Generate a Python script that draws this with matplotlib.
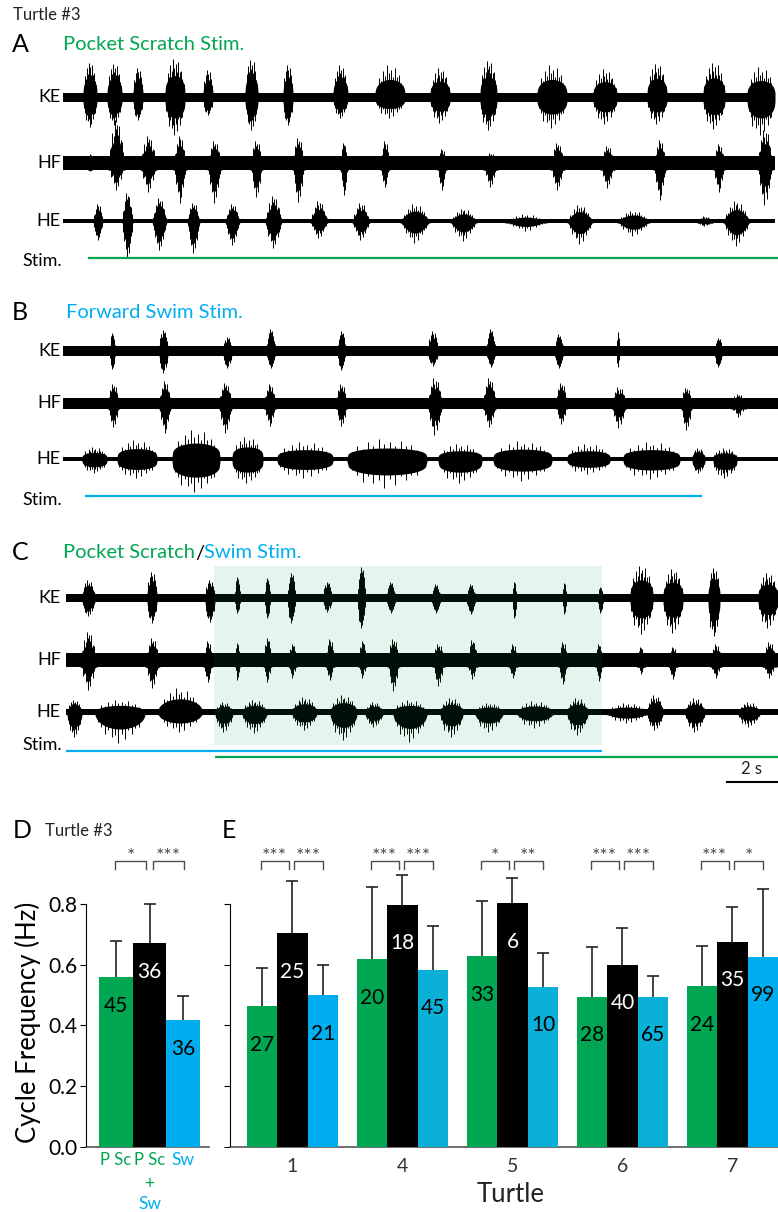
import numpy as np
import matplotlib.pyplot as plt

plt.rcParams['font.family'] = ['Lato', 'DejaVu Sans']

W, H = 778, 1212
GREEN = '#00A651'
BLUE = '#00AEEF'
BLUE2 = '#0BB0D8'
GREY = '#4D4D4D'

# bursts: (onset s, offset s, peak up, peak down), amplitudes in a.u.
a_ke = [(0.80, 1.36, 35, 30), (1.76, 2.36, 34, 28), (2.80, 3.20, 29, 23), (4.08, 4.88, 39, 38),
        (5.60, 6.00, 27, 18), (7.28, 7.80, 38, 33), (8.80, 9.20, 32, 28), (10.8, 11.4, 32, 21),
        (12.48, 13.68, 32, 21), (14.68, 15.48, 29, 26), (16.68, 17.36, 37, 33), (18.96, 20.16, 32, 31),
        (21.2, 22.16, 28, 27), (23.36, 24.16, 34, 27), (25.6, 26.48, 35, 32), (27.36, 28.48, 30, 38)]
a_hf = [(1.00, 1.16, 10, 8), (1.80, 2.48, 45, 27), (3.08, 3.76, 28, 29), (4.40, 4.96, 28, 40),
        (5.76, 6.36, 23, 40), (7.48, 8.00, 23, 34), (9.16, 9.68, 26, 39), (11.08, 11.4, 21, 32),
        (12.68, 13.08, 23, 24), (14.96, 15.36, 15, 27), (16.8, 17.4, 11, 24), (19.48, 20.08, 21, 27),
        (21.48, 22.08, 18, 25), (23.6, 24.16, 24, 37), (26.0, 26.48, 20, 29), (27.76, 28.4, 35, 42)]
a_he = [(1.20, 1.60, 18, 19), (2.36, 2.80, 29, 37), (3.56, 4.16, 24, 29), (4.96, 5.48, 19, 32),
        (6.48, 7.08, 18, 24), (8.08, 8.76, 26, 27), (9.88, 10.6, 21, 17), (11.56, 12.28, 19, 19),
        (13.48, 14.68, 18, 22), (15.48, 16.56, 13, 20), (17.68, 19.36, 7, 10), (20.16, 21.2, 17, 23),
        (22.16, 23.48, 11, 15), (25.36, 26.0, 5, 5), (26.4, 27.48, 21, 25)]

b_ke = [(1.88, 2.08, 18, 18), (3.84, 4.20, 21, 22), (6.40, 6.76, 14, 17), (8.16, 8.48, 22, 17),
        (11.0, 11.28, 20, 19), (14.6, 15.0, 20, 15), (16.96, 17.28, 22, 16), (19.68, 20.0, 17, 17),
        (22.16, 22.24, 19, 16), (26.08, 26.36, 13, 16)]
b_hf = [(1.76, 2.28, 20, 24), (3.80, 4.36, 23, 30), (6.20, 6.80, 21, 30), (8.00, 8.56, 20, 23),
        (10.88, 11.4, 20, 23), (14.56, 15.2, 26, 32), (16.76, 17.36, 26, 24), (19.68, 20.2, 21, 21),
        (21.92, 22.56, 17, 25), (24.68, 25.2, 16, 27), (26.68, 27.36, 10, 14)]
b_he = [(0.76, 1.76, 12, 14), (2.16, 3.76, 19, 19), (4.36, 6.28, 29, 33), (6.76, 8.00, 22, 24),
        (8.56, 10.8, 17, 19), (11.36, 14.56, 20, 29), (15.0, 16.76, 15, 24), (17.2, 19.56, 18, 22),
        (20.16, 21.88, 15, 15), (22.4, 24.68, 17, 20), (25.16, 25.68, 11, 14), (26.0, 26.96, 11, 19)]

c_ke = [(0.76, 1.28, 18, 18), (3.36, 3.76, 26, 25), (5.68, 6.08, 18, 24), (6.88, 7.08, 21, 15),
        (8.08, 8.28, 20, 20), (9.00, 9.28, 25, 25), (10.4, 10.76, 16, 14), (11.8, 12.08, 31, 30),
        (12.96, 13.28, 16, 15), (14.76, 15.08, 14, 15), (16.16, 16.48, 14, 16), (18.0, 18.12, 16, 20),
        (20.0, 20.12, 15, 16), (21.4, 21.6, 11, 15), (22.68, 23.6, 33, 36), (24.0, 24.8, 29, 35),
        (25.8, 26.28, 30, 38), (27.8, 28.6, 25, 30)]
c_hf = [(0.68, 1.36, 30, 30), (3.28, 3.88, 23, 28), (5.60, 6.00, 20, 22), (6.88, 7.08, 18, 20),
        (8.00, 8.36, 23, 22), (9.00, 9.36, 17, 18), (10.48, 10.88, 22, 20), (11.8, 12.16, 20, 18),
        (12.96, 13.48, 22, 31), (14.76, 15.28, 17, 26), (16.16, 16.6, 21, 19), (17.8, 18.2, 17, 18),
        (19.8, 20.2, 19, 24), (21.28, 21.6, 17, 21), (22.96, 23.28, 14, 14), (24.2, 24.6, 14, 19),
        (25.88, 26.36, 17, 18), (27.96, 28.56, 19, 18)]
c_he = [(0.16, 0.76, 12, 25), (1.28, 3.28, 12, 31), (3.80, 5.56, 24, 20), (6.08, 6.80, 10, 20),
        (7.16, 8.16, 12, 21), (9.16, 10.16, 15, 18), (10.68, 11.76, 17, 28), (12.08, 12.8, 10, 15),
        (13.2, 14.56, 12, 30), (15.08, 16.0, 14, 25), (16.48, 17.6, 9, 20), (18.16, 19.6, 11, 16),
        (20.16, 21.0, 14, 23), (21.76, 23.36, 9, 11), (23.36, 24.0, 17, 18), (24.88, 25.68, 14, 20),
        (27.0, 27.88, 10, 15)]

# stimulus periods (s)
a_stim_ps = (1.0, 28.6)
b_stim_sw = (0.88, 25.56)
c_stim_sw = (0.12, 21.55)
c_stim_ps = (6.08, 28.6)

# cycle frequency (Hz), mean and SD, n cycles
d_mean = [0.559, 0.671, 0.418]
d_sd = [0.121, 0.129, 0.080]
d_n = [45, 36, 36]
d_sig = ['*', '***']

turtles = ['1', '4', '5', '6', '7']
e_ps_mean = [0.464, 0.619, 0.629, 0.494, 0.530]
e_ps_sd = [0.127, 0.239, 0.180, 0.166, 0.133]
e_ps_n = [27, 20, 33, 28, 24]
e_mix_mean = [0.705, 0.798, 0.803, 0.600, 0.676]
e_mix_sd = [0.173, 0.100, 0.082, 0.121, 0.115]
e_mix_n = [25, 18, 6, 40, 35]
e_sw_mean = [0.500, 0.583, 0.527, 0.494, 0.626]
e_sw_sd = [0.100, 0.144, 0.111, 0.070, 0.225]
e_sw_n = [21, 45, 10, 65, 99]
e_sig = [('***', '***'), ('***', '***'), ('*', '**'), ('***', '***'), ('***', '*')]

fig = plt.figure(figsize=(W / 100, H / 100), dpi=100)


def px_axes(x0, y0, x1, y1):
    return fig.add_axes([x0 / W, 1 - y1 / H, (x1 - x0) / W, (y1 - y0) / H])


def ftext(x, y, s, **kw):
    return fig.text(x / W, 1 - y / H, s, **kw)


# ---------------- traces (A, B, C) ----------------
ax = px_axes(63, 0, 778, 800)
ax.set_xlim(0, 28.6)
ax.set_ylim(800, 0)
ax.axis('off')

u = np.linspace(0, 1, 61)
# spike layout inside a burst (fraction of burst, relative height) - drawing style only
spk_pos = np.linspace(0.06, 0.94, 14)
spk_up = np.array([0.5, 0.8, 0.6, 0.9, 0.7, 1.0, 0.75, 0.85, 0.65, 0.95, 0.7, 0.8, 0.6, 0.55])
spk_dn = np.array([0.6, 0.7, 0.9, 0.65, 0.85, 0.75, 1.0, 0.7, 0.9, 0.6, 0.8, 0.65, 0.7, 0.5])


def draw_trace(y0, t0, t1, base, bursts, shape):
    ax.fill_between([t0, t1], y0 - base, y0 + base, color='k', lw=0)
    env = np.sin(np.pi * u) ** shape
    senv = np.sin(np.pi * spk_pos) ** shape
    for on, off, up, dn in bursts:
        t = on + (off - on) * u
        ax.fill_between(t, y0 - np.maximum(base, 0.55 * up * env),
                        y0 + np.maximum(base, 0.55 * dn * env), color='k', lw=0)
        ts = on + (off - on) * spk_pos
        ax.vlines(ts, y0 - np.maximum(base, up * spk_up * senv),
                  y0 + np.maximum(base, dn * spk_dn * senv), color='k', lw=0.7)


draw_trace(97, 0, 28.5, 4.5, a_ke, 0.3)
draw_trace(163, 0, 28.5, 7, a_hf, 1.0)
draw_trace(221, 0, 28.5, 2, a_he, 0.9)
draw_trace(351, 0, 28.6, 5, b_ke, 0.3)
draw_trace(403, 0, 28.6, 5.5, b_hf, 1.0)
draw_trace(459, 0, 28.6, 2.2, b_he, 0.25)
draw_trace(598, 0.12, 28.6, 4, c_ke, 0.3)
draw_trace(660, 0.12, 28.6, 7, c_hf, 1.0)
draw_trace(712, 0.12, 28.6, 3, c_he, 0.4)

ax.plot(a_stim_ps, [257.5, 257.5], color=GREEN, lw=1.6, solid_capstyle='butt')
ax.plot(b_stim_sw, [496, 496], color=BLUE, lw=1.6, solid_capstyle='butt')
ax.plot(c_stim_sw, [750.7, 750.7], color=BLUE, lw=1.6, solid_capstyle='butt')
ax.plot(c_stim_ps, [756.7, 756.7], color=GREEN, lw=1.6, solid_capstyle='butt')
ax.fill_between([c_stim_ps[0] - 0.04, c_stim_sw[1]], 566, 745, color=GREEN, alpha=0.1, lw=0, zorder=5)

# 2 s scale bar
ax.plot([26.55, 28.55], [782, 782], color='k', lw=1.5, clip_on=False)
ax.text(27.55, 769, '2 s', ha='center', va='center', fontsize=12, color='#222')

for lab, yy in zip(['KE', 'HF', 'HE'] * 3, [97, 163, 221, 351, 403, 459, 598, 660, 712]):
    ftext(61, yy, lab, ha='right', va='center', fontsize=13)
for yy in [261, 500, 745]:
    ftext(62, yy, 'Stim.', ha='right', va='center', fontsize=13)

ftext(13, 15, 'Turtle #3', ha='left', va='center', fontsize=12, color='#222')
ftext(12, 45, 'A', ha='left', va='center', fontsize=18)
ftext(63, 45, 'Pocket Scratch Stim.', ha='left', va='center', fontsize=14.5, color=GREEN)
ftext(12, 313, 'B', ha='left', va='center', fontsize=18)
ftext(66, 313, 'Forward Swim Stim.', ha='left', va='center', fontsize=14.5, color=BLUE)
ftext(12, 553, 'C', ha='left', va='center', fontsize=18)
renderer = fig.canvas.get_renderer()
xx = 63
for s, col in [('Pocket Scratch', GREEN), ('/', 'k'), ('Swim Stim.', BLUE)]:
    t = ftext(xx, 553, s, ha='left', va='center', fontsize=14.5, color=col)
    xx = t.get_window_extent(renderer).x1

# ---------------- D ----------------
Y0, PXU = 1146.7, 303.1  # y=0 row and pixels per Hz in both bar panels
YTOP = 0.85
axD = px_axes(86, Y0 - YTOP * PXU, 209, Y0)
xd = np.arange(3)
axD.bar(xd, d_mean, width=1.0, color=[GREEN, 'k', BLUE], zorder=3)
axD.vlines(xd, d_mean, np.add(d_mean, d_sd), color='#222', lw=1.2, zorder=2, clip_on=False)
axD.plot(xd, np.add(d_mean, d_sd), ls='none', marker='_', ms=8, mew=1.2, color='#222', clip_on=False)
for x, m, n, c in zip(xd, d_mean, d_n, ['k', 'w', 'k']):
    axD.text(x, m - 0.095, str(n), ha='center', va='center', fontsize=15, color=c, zorder=4)
axD.set_xlim(-0.9, 2.78)
axD.set_ylim(0, YTOP)
axD.set_yticks([0, 0.2, 0.4, 0.6, 0.8], ['0.0', '0.2', '0.4', '0.6', '0.8'])
axD.set_xticks([])
axD.tick_params(axis='y', direction='out', length=4, labelsize=15, pad=2)
for br, st in zip([(-0.03, 0.9), (1.1, 2.03)], d_sig):
    axD.plot([br[0], br[0], br[1], br[1]], [0.916, 0.943, 0.943, 0.916], color=GREY, lw=1, clip_on=False)
    axD.text(np.mean(br), 0.957, st, ha='center', va='center', fontsize=14, color=GREY)
axD.text(0, -0.044, 'P Sc', ha='center', va='center', fontsize=12, color=GREEN)
axD.text(1, -0.044, 'P Sc', ha='center', va='center', fontsize=12, color=GREEN)
axD.text(1, -0.122, '+', ha='center', va='center', fontsize=12.5, color=GREEN)
axD.text(1, -0.19, 'Sw', ha='center', va='center', fontsize=12.5, color=BLUE)
axD.text(2, -0.044, 'Sw', ha='center', va='center', fontsize=12.5, color=BLUE)

# ---------------- E ----------------
axE = px_axes(230, Y0 - YTOP * PXU, 778, Y0)
xe = np.arange(len(turtles))
w = 0.278
sw_cols = [BLUE, BLUE2, BLUE2, BLUE2, BLUE]
for off, mean, sd, ns, col, tc in [(-w, e_ps_mean, e_ps_sd, e_ps_n, GREEN, 'k'),
                                    (0, e_mix_mean, e_mix_sd, e_mix_n, 'k', 'w'),
                                    (w, e_sw_mean, e_sw_sd, e_sw_n, sw_cols, 'k')]:
    axE.bar(xe + off, mean, width=w, color=col, zorder=3)
    axE.vlines(xe + off, mean, np.add(mean, sd), color='#222', lw=1.2, zorder=2, clip_on=False)
    axE.plot(xe + off, np.add(mean, sd), ls='none', marker='_', ms=8, mew=1.2, color='#222', clip_on=False)
    for x, m, n in zip(xe + off, mean, ns):
        axE.text(x, m - 0.127, str(n), ha='center', va='center', fontsize=15, color=tc, zorder=4)
for x, (s1, s2) in zip(xe, e_sig):
    for br, st in [((x - w - 0.012, x - 0.032), s1), ((x + 0.016, x + w), s2)]:
        axE.plot([br[0], br[0], br[1], br[1]], [0.916, 0.943, 0.943, 0.916], color=GREY, lw=1, clip_on=False)
        axE.text(np.mean(br), 0.957, st, ha='center', va='center', fontsize=14, color=GREY)
axE.set_xlim(-0.568, 4.414)
axE.set_ylim(0, YTOP)
axE.set_yticks([0, 0.2, 0.4, 0.6, 0.8], [])
axE.set_xticks(xe, turtles)
axE.tick_params(axis='y', direction='out', length=4)
axE.tick_params(axis='x', length=0, labelsize=14, pad=8, colors='#333')

for a in (axD, axE):
    a.spines['top'].set_visible(False)
    a.spines['right'].set_visible(False)
    a.spines['left'].set_bounds(0, 0.8)
    a.spines['bottom'].set_color('#555')
    a.spines['bottom'].set_linewidth(1.2)
    a.set_facecolor('none')

ftext(28, 1022, 'Cycle Frequency (Hz)', rotation=90, ha='center', va='center', fontsize=18.5)
ftext(511, 1194, 'Turtle', ha='center', va='center', fontsize=18.5, color='#222')
ftext(13, 830, 'D', ha='left', va='center', fontsize=18)
ftext(45, 831, 'Turtle #3', ha='left', va='center', fontsize=12, color='#222')
ftext(222, 830, 'E', ha='left', va='center', fontsize=18)

fig.savefig('out.png', dpi=100)
